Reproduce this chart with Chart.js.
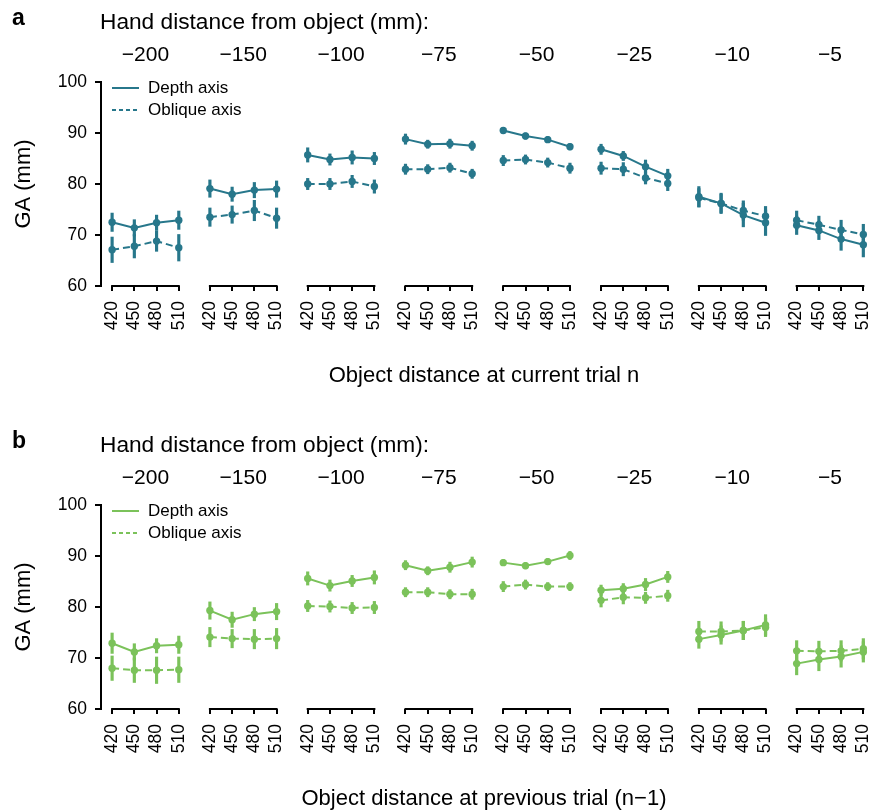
<!DOCTYPE html>
<html lang="en">
  <head>
    <meta charset="UTF-8" />
    <title>GA by hand distance</title>
    <style>
      html, body { margin: 0; padding: 0; background: #fff; }
      canvas { display: block; }
    </style>
  </head>
  <body>
    <canvas id="panelA" width="874" height="423"></canvas>
    <canvas id="panelB" width="874" height="388"></canvas>

    <script src="https://cdn.jsdelivr.net/npm/chart.js"></script>

    <script>
      // groups along the x axis and the object distances inside each group
      const handDistances = ['\u2212200', '\u2212150', '\u2212100', '\u221275', '\u221250', '\u221225', '\u221210', '\u22125'];
      const objectDistances = ['420', '450', '480', '510'];
      const yTicks = [60, 70, 80, 90, 100];

      // panel a: object distance at current trial n
      const depthCurrent = [72.5, 71.4, 72.4, 72.9, 79.1, 78.0, 78.8, 79.0, 85.7, 84.8, 85.2, 85.0, 88.8, 87.8, 87.9, 87.5,
        90.5, 89.4, 88.7, 87.3, 86.8, 85.5, 83.4, 81.6, 77.5, 76.2, 73.9, 72.4, 71.9, 70.9, 69.2, 68.1];
      const depthCurrentErr = [1.8, 1.6, 1.5, 1.8, 1.7, 1.4, 1.5, 1.6, 1.4, 1.1, 1.3, 1.2, 1.0, 0.8, 0.9, 0.9,
        0.6, 0.6, 0.6, 0.6, 1.0, 0.9, 1.3, 1.3, 2.0, 2.0, 2.3, 2.5, 1.8, 1.8, 2.2, 2.4];
      const obliqueCurrent = [67.1, 67.8, 68.8, 67.5, 73.5, 74.0, 74.8, 73.3, 80.0, 80.0, 80.5, 79.5, 82.9, 82.9, 83.2, 82.0,
        84.6, 84.8, 84.2, 83.1, 83.1, 82.9, 81.2, 80.1, 77.3, 76.2, 74.8, 73.7, 72.9, 72.0, 71.0, 70.1];
      const obliqueCurrentErr = [2.5, 2.3, 2.0, 2.6, 1.8, 1.7, 2.0, 2.0, 1.1, 1.1, 1.2, 1.3, 1.0, 0.9, 0.9, 0.9,
        1.0, 0.9, 0.9, 1.0, 1.2, 1.3, 1.2, 1.4, 1.8, 1.8, 1.9, 1.9, 1.8, 1.7, 1.9, 2.0];

      // panel b: object distance at previous trial (n-1)
      const depthPrevious = [72.9, 71.2, 72.4, 72.6, 79.3, 77.5, 78.6, 79.1, 85.6, 84.2, 85.1, 85.8, 88.2, 87.1, 87.8, 88.8,
        88.7, 88.1, 88.9, 90.1, 83.3, 83.6, 84.4, 85.9, 73.7, 74.5, 75.4, 76.5, 68.9, 69.7, 70.3, 71.2];
      const depthPreviousErr = [2.0, 1.6, 1.4, 1.7, 1.7, 1.5, 1.3, 1.6, 1.3, 1.1, 1.1, 1.3, 0.9, 0.8, 1.0, 1.0,
        0.6, 0.6, 0.6, 0.8, 1.0, 1.0, 1.2, 1.1, 1.8, 1.8, 1.8, 2.0, 2.2, 2.2, 2.1, 2.0];
      const obliquePrevious = [68.0, 67.6, 67.6, 67.7, 74.1, 73.8, 73.7, 73.8, 80.2, 80.1, 79.8, 79.9, 82.9, 82.9, 82.5, 82.5,
        84.0, 84.4, 84.0, 84.0, 81.3, 81.9, 81.8, 82.2, 75.2, 75.2, 75.4, 76.0, 71.4, 71.3, 71.4, 71.8];
      const obliquePreviousErr = [2.4, 2.4, 2.6, 2.5, 1.9, 1.8, 1.9, 2.0, 1.1, 1.1, 1.1, 1.2, 0.9, 0.9, 0.9, 1.0,
        1.0, 0.9, 0.8, 0.8, 1.3, 1.3, 1.1, 1.1, 2.0, 1.9, 1.8, 1.8, 2.0, 2.0, 2.0, 2.0];

      const FONT = "'Liberation Sans', Arial, Helvetica, sans-serif";
      Chart.defaults.font.family = FONT;
      Chart.defaults.color = '#000';

      const GROUP_STEP = 4.4; // x-units between the first points of two groups
      const xOf = (k) => Math.floor(k / 4) * GROUP_STEP + (k % 4);

      function linePoints(values) {
        const pts = [];
        values.forEach((v, k) => {
          pts.push({ x: xOf(k), y: v });
          if (k % 4 === 3) pts.push({ x: xOf(k) + 0.5, y: null }); // break the line between groups
        });
        return pts;
      }

      function errorBars(values, errs) {
        return values.map((v, k) => ({ x: xOf(k), y: [v - errs[k], v + errs[k]] }));
      }

      // axis pieces, group captions, legend and titles
      const panelDecor = {
        id: 'panelDecor',
        afterDraw(chart, args, opts) {
          const { ctx, chartArea } = chart;
          const xs = chart.scales.x;
          ctx.save();

          ctx.strokeStyle = '#000';
          ctx.lineWidth = 2;
          ctx.fillStyle = '#000';
          ctx.textBaseline = 'middle';
          ctx.textAlign = 'center';
          ctx.font = '21px ' + FONT;
          handDistances.forEach((label, g) => {
            const x0 = xs.getPixelForValue(g * GROUP_STEP);
            const x1 = xs.getPixelForValue(g * GROUP_STEP + 3);
            ctx.beginPath();
            ctx.moveTo(x0 - 1, chartArea.bottom);
            ctx.lineTo(x1 + 1, chartArea.bottom);
            ctx.stroke();
            ctx.fillText(label, (x0 + x1) / 2, 55);
          });

          // panel letter and top caption
          ctx.textAlign = 'left';
          ctx.font = 'bold 23px ' + FONT;
          ctx.fillText(opts.letter, 12, 19);
          ctx.font = '22.7px ' + FONT;
          ctx.fillText('Hand distance from object (mm):', 100, 23);

          // x axis title
          ctx.textAlign = 'center';
          ctx.font = '22px ' + FONT;
          ctx.fillText(opts.xTitle, 484, chartArea.bottom + 90);

          // y axis title
          ctx.save();
          ctx.translate(24, (chartArea.top + chartArea.bottom) / 2);
          ctx.rotate(-Math.PI / 2);
          ctx.fillText('GA (mm)', 0, 0);
          ctx.restore();

          // legend inside the plot
          ctx.font = '17px ' + FONT;
          ctx.textAlign = 'left';
          const lineSets = chart.data.datasets.filter((d) => d.type === 'line');
          lineSets.forEach((d, i) => {
            const y = chartArea.top + 6 + i * 22;
            ctx.strokeStyle = d.borderColor;
            ctx.lineWidth = 2;
            ctx.setLineDash(d.borderDash && d.borderDash.length ? [4, 3] : []);
            ctx.beginPath();
            ctx.moveTo(112, y);
            ctx.lineTo(139, y);
            ctx.stroke();
            ctx.setLineDash([]);
            ctx.fillText(d.label, 148, y);
          });
          ctx.restore();
        },
      };

      function createPanel(canvas, { letter, xTitle, color, depth, depthErr, oblique, obliqueErr }) {
        const lineStyle = {
          type: 'line',
          borderColor: color,
          backgroundColor: color,
          borderWidth: 2,
          pointRadius: 3.7,
          pointBorderWidth: 0,
          pointBackgroundColor: color,
          tension: 0,
          spanGaps: false,
          order: 0,
        };
        const barStyle = {
          type: 'bar',
          backgroundColor: color,
          borderWidth: 0,
          barThickness: 2.5,
          grouped: false,
          order: 1,
        };
        new Chart(canvas, {
          type: 'line',
          data: {
            datasets: [
              { ...barStyle, label: 'Depth axis SE', data: errorBars(depth, depthErr) },
              { ...barStyle, label: 'Oblique axis SE', data: errorBars(oblique, obliqueErr) },
              { ...lineStyle, label: 'Depth axis', data: linePoints(depth) },
              { ...lineStyle, label: 'Oblique axis', data: linePoints(oblique), borderDash: [7, 4] },
            ],
          },
          options: {
            responsive: false,
            animation: false,
            layout: { padding: { top: 82, left: 0, right: 2, bottom: canvas.height - 286 - 60 } },
            plugins: {
              legend: { display: false },
              tooltip: { enabled: false },
              panelDecor: { letter, xTitle },
            },
            scales: {
              x: {
                type: 'linear',
                min: -0.5,
                max: 34.1,
                offset: false,
                afterFit: (scale) => {
                  scale.height = 60;
                  scale.paddingLeft = 0;
                  scale.paddingRight = 0;
                },
                afterBuildTicks: (scale) => {
                  scale.ticks = handDistances.flatMap((_, g) =>
                    objectDistances.map((_, i) => ({ value: g * GROUP_STEP + i })));
                },
                ticks: {
                  autoSkip: false,
                  maxRotation: 90,
                  minRotation: 90,
                  padding: 10,
                  font: { size: 17.5 },
                  callback: (value, index) => objectDistances[index % 4],
                },
                grid: { offset: false, drawOnChartArea: false, drawTicks: true, tickLength: 5, color: '#000', lineWidth: 2 },
                border: { display: false },
              },
              y: {
                min: 60,
                max: 100,
                afterFit: (scale) => {
                  scale.width = 101;
                  scale.paddingTop = 0;
                  scale.paddingBottom = 0;
                },
                afterBuildTicks: (scale) => { scale.ticks = yTicks.map((v) => ({ value: v })); },
                ticks: { font: { size: 17.5 }, padding: 8 },
                grid: { drawOnChartArea: false, drawTicks: true, tickLength: 6, color: '#000', lineWidth: 2 },
                border: { display: true, color: '#000', width: 2 },
              },
            },
          },
          plugins: [panelDecor],
        });
      }

      createPanel(document.getElementById('panelA'), {
        letter: 'a',
        xTitle: 'Object distance at current trial n',
        color: '#27778b',
        depth: depthCurrent,
        depthErr: depthCurrentErr,
        oblique: obliqueCurrent,
        obliqueErr: obliqueCurrentErr,
      });

      createPanel(document.getElementById('panelB'), {
        letter: 'b',
        xTitle: 'Object distance at previous trial (n\u22121)',
        color: '#7bc25a',
        depth: depthPrevious,
        depthErr: depthPreviousErr,
        oblique: obliquePrevious,
        obliqueErr: obliquePreviousErr,
      });
    </script>
  </body>
</html>
